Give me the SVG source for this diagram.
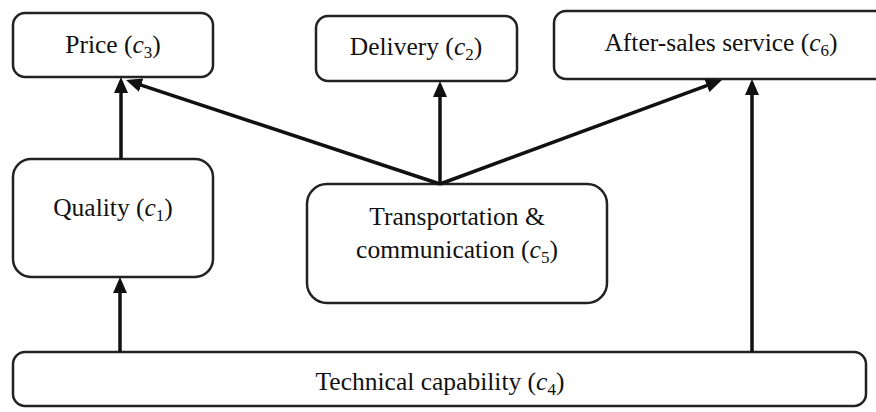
<svg xmlns="http://www.w3.org/2000/svg" width="876" height="412" viewBox="0 0 876 412">
<style>
.box{fill:#fff;stroke:#222;stroke-width:2.5}
.lbl{font-family:"Liberation Serif","Times New Roman",serif;font-size:25.5px;fill:#111;text-anchor:middle}
.m{font-style:italic}
.s{font-size:17px}
.conn line{stroke:#111;stroke-width:3.5;fill:none;marker-end:url(#ah)}
</style>
<defs>
<marker id="ah" markerUnits="userSpaceOnUse" markerWidth="16" markerHeight="14" refX="12" refY="7" orient="auto">
<path d="M0,0 L16,7 L0,14 z" fill="#111"/>
</marker>
</defs>
<rect width="876" height="412" fill="#fff"/>
<g id="price"><rect class="box" x="13" y="13" width="200" height="64" rx="12"/>
<text class="lbl" x="113" y="53">Price (<tspan class="m">c</tspan><tspan class="s" dy="5">3</tspan><tspan dy="-5">)</tspan></text></g>
<g id="delivery"><rect class="box" x="316" y="16" width="201" height="65" rx="12"/>
<text class="lbl" x="416" y="55">Delivery (<tspan class="m">c</tspan><tspan class="s" dy="5">2</tspan><tspan dy="-5">)</tspan></text></g>
<g id="aftersales"><rect class="box" x="554" y="11" width="340" height="68" rx="12"/>
<text class="lbl" x="721" y="51">After-sales service (<tspan class="m">c</tspan><tspan class="s" dy="5">6</tspan><tspan dy="-5">)</tspan></text></g>
<g id="quality"><rect class="box" x="13" y="159" width="200" height="118" rx="18"/>
<text class="lbl" x="113" y="216">Quality (<tspan class="m">c</tspan><tspan class="s" dy="5">1</tspan><tspan dy="-5">)</tspan></text></g>
<g id="transport"><rect class="box" x="307" y="184" width="300" height="119" rx="20"/>
<text class="lbl" x="457" y="225">Transportation &amp;</text>
<text class="lbl" x="457" y="258">communication (<tspan class="m">c</tspan><tspan class="s" dy="5">5</tspan><tspan dy="-5">)</tspan></text></g>
<g id="technical"><rect class="box" x="13" y="352" width="853" height="54" rx="12"/>
<text class="lbl" x="440" y="390">Technical capability (<tspan class="m">c</tspan><tspan class="s" dy="5">4</tspan><tspan dy="-5">)</tspan></text></g>
<g class="conn" id="connectors">
<line x1="121" y1="159" x2="121" y2="81"/>
<line x1="440" y1="184" x2="129.8" y2="81.3"/>
<line x1="440" y1="184" x2="440" y2="85"/>
<line x1="440" y1="184" x2="718.2" y2="81.4"/>
<line x1="120" y1="352" x2="120" y2="281"/>
<line x1="752" y1="352" x2="752" y2="83"/>
</g>
</svg>
